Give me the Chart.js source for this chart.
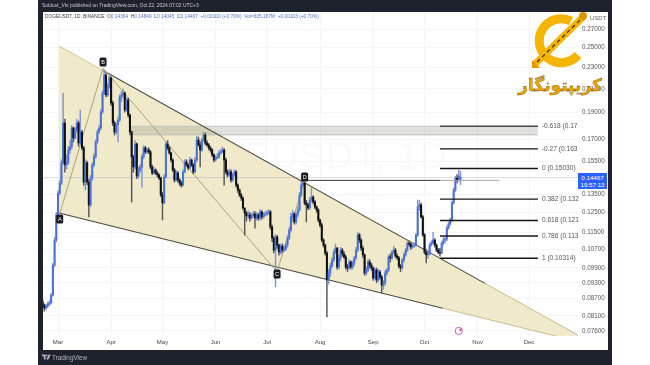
<!DOCTYPE html>
<html>
<head>
<meta charset="utf-8" />
<script src="https://cdn.jsdelivr.net/npm/chart.js@4.4.1/dist/chart.umd.min.js"></script>
<style>
  html, body { margin:0; width:650px; height:365px; overflow:hidden; background:#fff; font-family:"Liberation Sans",sans-serif; }
  #frame { position:absolute; left:38px; top:0; width:574px; height:365px; background:#1e222d; }
  #panel { position:absolute; left:43px; top:12px; width:565px; height:338px; background:#fff; }
  #chart { position:absolute; left:0; top:0; filter:blur(.35px); }
  .t { position:absolute; white-space:nowrap; filter:blur(.2px); }
  #published { left:42px; top:3px; font-size:4.95px; color:#c8cad2; }
  #legend { left:45px; top:14px; font-size:4.8px; color:#3a3d48; }
  #legend span { color:#4f74cc; }
  #wm1 { left:155px; top:135px; font-size:38px; letter-spacing:1px; color:#fafafb; }
  #wm2 { left:265px; top:188px; font-size:13px; color:#f9f9fa; }
  #usdt { left:590px; top:15px; font-size:6px; color:#666; }
  #last { position:absolute; left:578px; top:173px; width:29px; height:16px; background:#2962ff; color:#fff; font-size:6.2px; line-height:7.4px; text-align:center; padding-top:1px; box-sizing:border-box; }
  #tv { left:52px; top:354px; font-size:6.4px; color:#b2b5be; }
  svg { position:absolute; }
</style>
</head>
<body>
<div id="frame"></div>
<div id="panel"></div>
<div class="t" id="wm1">DOGEUSDT, 1D</div>
<div class="t" id="wm2">Dogecoin / TetherUS</div>
<canvas id="chart" width="650" height="365"></canvas>
<div class="t" id="published">Soldout_Vin published on TradingView.com, Oct 22, 2024 07:02 UTC+3</div>
<div class="t" id="legend">DOGEUSDT, 1D, BINANCE &nbsp;O<span>0.14364</span> &nbsp;H<span>0.14849</span> &nbsp;L<span>0.14045</span> &nbsp;C<span>0.14467</span> &nbsp;<span>+0.00100 (+0.70%)</span> &nbsp;<span>Vol=605.167M</span> &nbsp;<span>+0.00103 (+0.70%)</span></div>
<div class="t" id="usdt">USDT</div>
<div id="last">0.14467<br>19:57:13</div>
<div class="t" id="tv">TradingView</div>
<svg style="left:42px;top:354px" width="9" height="7" viewBox="0 0 9 7"><path d="M0 0.5H3.6V5.6H1.8V2.3H0Z M4.4 5.6L6.6 0.5H8.7L6.4 5.6Z" fill="#b2b5be"/><circle cx="4.6" cy="1.4" r="0.9" fill="#b2b5be"/></svg>
<svg style="left:515px;top:5px" width="95" height="98" viewBox="515 5 95 98">
  <path d="M578 55 A22 22 0 1 1 571 21" fill="none" stroke="#f5b400" stroke-width="9"/>
  <path d="M534 65 L583 17" fill="none" stroke="#f5b400" stroke-width="7"/>
  <path d="M537 62 L580 20" fill="none" stroke="#3a2c05" stroke-width="1.2" stroke-dasharray="4 3"/>
  <path d="M532 68 L532 60 L540 68 Z" fill="#e29a00"/>
  <circle cx="583" cy="16" r="4" fill="#d99800"/>
  <text x="560" y="91" text-anchor="middle" direction="rtl" font-family="DejaVu Sans" font-weight="bold" font-size="17" fill="#eda400" stroke="#5a4000" stroke-width="0.3">کریپتونگار</text>
</svg>
<script>
// daily candles, first one is 9 days before Mar 1
const firstDay = -9;
const opens = [
  .0860,.0847,.0837,.0844,.0851,.0856,.0883,.1002,.1113,
  .1237,.1356,.1414,.1539,.1820,.1526,.1539,.1625,.1646,.1782,
  .1709,.1767,.1820,.1673,.1752,.1639,.1420,.1539,.1420,.1290,
  .1444,.1526,.1578,.1680,.1752,.1782,.1906,.2064,.2226,.2047,
  .2117,.2199,.1979,.1820,.1752,.1805,.1843,.2030,.2047,.2064,
  .1922,.2004,.1882,.1752,.1578,.1513,.1666,.1457,.1494,.1513,
  .1578,.1639,.1612,.1625,.1612,.1513,.1475,.1494,.1475,.1463,
  .1444,.1345,.1301,.1450,.1666,.1639,.1605,.1558,.1494,.1432,
  .1475,.1432,.1414,.1402,.1482,.1545,.1526,.1507,.1558,.1526,
  .1482,.1558,.1694,.1660,.1625,.1694,.1730,.1673,.1660,.1639,
  .1625,.1591,.1558,.1571,.1578,.1605,.1612,.1625,.1558,.1482,
  .1463,.1482,.1432,.1463,.1482,.1402,.1373,.1345,.1328,.1274,
  .1247,.1232,.1237,.1221,.1232,.1242,.1221,.1237,.1221,.1253,
  .1227,.1237,.1242,.1247,.1253,.1176,.1123,.1067,.1128,.1090,
  .1058,.1085,.1067,.1072,.1090,.1123,.1161,.1227,.1242,.1201,
  .1237,.1263,.1345,.1402,.1414,.1301,.1290,.1274,.1317,.1334,
  .1306,.1279,.1263,.1211,.1186,.1113,.1090,.1054,.0941,.0969,
  .0998,.1024,.1058,.1076,.0994,.1033,.1067,.1050,.1037,.0994,
  .0990,.1015,.0994,.1011,.1033,.1067,.1137,.1113,.1076,.1046,
  .0969,.0981,.1015,.1002,.0990,.0949,.0981,.0941,.0973,.0953,
  .0921,.0930,.0969,.0981,.1037,.1033,.1058,.1067,.1041,.1033,
  .0998,.0990,.1024,.1046,.1067,.1099,.1094,.1081,.1085,.1090,
  .1137,.1279,.1290,.1227,.1137,.1058,.1046,.1052,.1090,.1099,
  .1113,.1090,.1067,.1058,.1054,.1099,.1113,.1118,.1171,.1191,
  .1211,.1301,.1373,.1444,.1432,.14364
];
const closes = [
  .0847,.0837,.0844,.0851,.0856,.0883,.1002,.1113,.1237,
  .1356,.1414,.1539,.1820,.1526,.1539,.1625,.1646,.1782,.1709,
  .1767,.1820,.1673,.1752,.1639,.1420,.1539,.1420,.1290,.1444,
  .1526,.1578,.1680,.1752,.1782,.1906,.2064,.2226,.2047,.2117,
  .2199,.1979,.1820,.1752,.1805,.1843,.2030,.2047,.2064,.1922,
  .2004,.1882,.1752,.1578,.1513,.1666,.1457,.1494,.1513,.1578,
  .1639,.1612,.1625,.1612,.1513,.1475,.1494,.1475,.1463,.1444,
  .1345,.1301,.1450,.1666,.1639,.1605,.1558,.1494,.1432,.1475,
  .1432,.1414,.1402,.1482,.1545,.1526,.1507,.1558,.1526,.1482,
  .1558,.1694,.1660,.1625,.1694,.1730,.1673,.1660,.1639,.1625,
  .1591,.1558,.1571,.1578,.1605,.1612,.1625,.1558,.1482,.1463,
  .1482,.1432,.1463,.1482,.1402,.1373,.1345,.1328,.1274,.1247,
  .1232,.1237,.1221,.1232,.1242,.1221,.1237,.1221,.1253,.1227,
  .1237,.1242,.1247,.1253,.1176,.1123,.1067,.1128,.1090,.1058,
  .1085,.1067,.1072,.1090,.1123,.1161,.1227,.1242,.1201,.1237,
  .1263,.1345,.1402,.1414,.1301,.1290,.1274,.1317,.1334,.1306,
  .1279,.1263,.1211,.1186,.1113,.1090,.1054,.0941,.0969,.0998,
  .1024,.1058,.1076,.0994,.1033,.1067,.1050,.1037,.0994,.0990,
  .1015,.0994,.1011,.1033,.1067,.1137,.1113,.1076,.1046,.0969,
  .0981,.1015,.1002,.0990,.0949,.0981,.0941,.0973,.0953,.0921,
  .0930,.0969,.0981,.1037,.1033,.1058,.1067,.1041,.1033,.0998,
  .0990,.1024,.1046,.1067,.1099,.1094,.1081,.1085,.1090,.1137,
  .1279,.1290,.1227,.1137,.1058,.1046,.1052,.1090,.1099,.1113,
  .1090,.1067,.1058,.1054,.1099,.1113,.1118,.1171,.1191,.1211,
  .1301,.1373,.1444,.1432,.1457,.14467
];
const highs = [
  .0868,.0852,.0850,.0858,.0863,.0890,.1010,.1125,.1250,
  .1370,.1430,.1560,.2064,.1850,.1590,.1650,.1690,.1800,.1790,
  .1785,.1850,.1835,.1922,.1765,.1650,.1560,.1550,.1435,.1460,
  .1540,.1600,.1695,.1770,.1800,.1925,.2085,.2273,.2240,.2150,
  .2240,.2210,.1995,.1835,.1820,.1865,.2050,.2080,.2100,.2075,
  .2020,.2020,.1890,.1760,.1590,.1690,.1675,.1510,.1530,.1595,
  .1655,.1650,.1640,.1640,.1620,.1525,.1510,.1500,.1485,.1470,
  .1450,.1360,.1465,.1680,.1690,.1650,.1610,.1565,.1505,.1490,
  .1485,.1440,.1425,.1495,.1560,.1560,.1535,.1575,.1565,.1535,
  .1575,.1720,.1715,.1680,.1705,.1750,.1745,.1690,.1670,.1650,
  .1635,.1600,.1590,.1600,.1620,.1630,.1645,.1635,.1570,.1495,
  .1500,.1495,.1475,.1495,.1490,.1410,.1380,.1355,.1335,.1265,
  .1255,.1260,.1250,.1245,.1255,.1255,.1250,.1245,.1265,.1260,
  .1250,.1255,.1260,.1265,.1260,.1185,.1130,.1140,.1135,.1095,
  .1095,.1095,.1085,.1100,.1135,.1175,.1245,.1260,.1250,.1250,
  .1280,.1360,.1420,.1445,.1420,.1315,.1300,.1330,.1385,.1340,
  .1315,.1285,.1270,.1215,.1195,.1120,.1095,.1062,.0985,.1010,
  .1035,.1070,.1095,.1080,.1045,.1080,.1075,.1060,.1045,.1005,
  .1025,.1020,.1020,.1040,.1080,.1150,.1145,.1120,.1085,.1050,
  .0995,.1025,.1025,.1010,.0995,.0990,.0990,.0985,.0980,.0960,
  .0940,.0980,.0990,.1045,.1050,.1065,.1085,.1075,.1050,.1040,
  .1005,.1030,.1055,.1075,.1105,.1110,.1100,.1095,.1100,.1145,
  .1317,.1315,.1300,.1235,.1145,.1070,.1065,.1100,.1110,.1150,
  .1120,.1095,.1075,.1075,.1105,.1125,.1125,.1180,.1200,.1220,
  .1310,.1385,.1455,.1465,.1494,.14849
];
const lows = [
  .0835,.0826,.0830,.0838,.0845,.0850,.0879,.0996,.1105,
  .1230,.1345,.1405,.1530,.1480,.1500,.1530,.1600,.1630,.1680,
  .1700,.1750,.1650,.1660,.1625,.1400,.1373,.1405,.1227,.1280,
  .1430,.1515,.1570,.1670,.1740,.1770,.1895,.2050,.2030,.2035,
  .2105,.1960,.1800,.1730,.1740,.1680,.1830,.1990,.2020,.1905,
  .1910,.1865,.1730,.1306,.1480,.1500,.1440,.1445,.1480,.1390,
  .1565,.1600,.1600,.1600,.1500,.1465,.1470,.1465,.1450,.1435,
  .1335,.1211,.1295,.1445,.1625,.1595,.1545,.1485,.1420,.1425,
  .1420,.1400,.1390,.1395,.1475,.1515,.1495,.1500,.1515,.1470,
  .1475,.1545,.1650,.1513,.1615,.1685,.1660,.1650,.1625,.1610,
  .1580,.1545,.1550,.1565,.1570,.1595,.1605,.1402,.1470,.1450,
  .1455,.1420,.1425,.1455,.1390,.1360,.1335,.1315,.1265,.1137,
  .1205,.1220,.1205,.1215,.1225,.1170,.1210,.1210,.1210,.1215,
  .1220,.1230,.1235,.1240,.1165,.1105,.1055,.0915,.1075,.1045,
  .1050,.1055,.1060,.1065,.1080,.1115,.1150,.1215,.1190,.1190,
  .1225,.1255,.1335,.1395,.1290,.1201,.1265,.1265,.1305,.1295,
  .1270,.1250,.1200,.1175,.1105,.1080,.1045,.0806,.0925,.0955,
  .0990,.1015,.1050,.0985,.0985,.1020,.1040,.1030,.0985,.0975,
  .0985,.0985,.0985,.1000,.1025,.1060,.1100,.1065,.1035,.0960,
  .0960,.0975,.0990,.0980,.0940,.0945,.0930,.0935,.0945,.0891,
  .0905,.0920,.0960,.0975,.1015,.1025,.1050,.1035,.1025,.0990,
  .0975,.0985,.1015,.1040,.1060,.1085,.1070,.1075,.1080,.1085,
  .1130,.1260,.1220,.1130,.1050,.1011,.1030,.1045,.1085,.1095,
  .1080,.1060,.1050,.1040,.1050,.1090,.1100,.1110,.1165,.1185,
  .1205,.1295,.1365,.1415,.1425,.14045
];

const monthDays = [0,31,61,92,122,153,184,214,245,275];
const monthNames = ['Mar','Apr','May','Jun','Jul','Aug','Sep','Oct','Nov','Dec'];
const priceTicks = [.27,.25,.23,.21,.19,.17,.155,.135,.125,.115,.107,.099,.093,.087,.081,.076];

// wedge edges, [day, price]
const wedgeDays = [0.6,303.6];
const wedgeUpper = [.2514,.0747];
const wedgeLower = [.1247,.07265];
const upperFaint = [[0.6,.2514],[26.3,.2268]];
const upperDark = [[26.3,.2268],[249.3,.0928]];
const upperPale = [[249.3,.0928],[303.6,.0747]];
const lowerDark = [[0.6,.1247],[224.7,.0836]];
const lowerPale = [[224.7,.0836],[303.6,.07265]];

// ABCD pattern
const patternNames = ['A','B','C','D'];
const patternDays = [1,26.3,127.9,144];
const patternPrices = [.1242,.2292,.0973,.1432];

// fib levels
const fibStart = 223, fibEnd = 280.2;
const fibPrices = [.1795,.1632,.1503,.1322,.1208,.1132,.10314];
const fibNames = ['-0.618 (0.17','-0.27 (0.163','0 (0.15030)','0.382 (0.132','0.618 (0.121','0.786 (0.113','1 (0.10314)'];

const zoneDays = [42,280.2];
const zoneTop = .1795, zoneBottom = .1730;
const resistance = .1430;
const lastPrice = .14467;
const plotLeftDay = -8.76, plotRightDay = 303.6;
const eventDay = 234, eventPrice = .076;

const pts = arr => arr.map(p => ({x:p[0], y:p[1]}));
const flat = (a, b, v) => [{x:a,y:v},{x:b,y:v}];
const UP = '#4a72d6', DOWN = '#0e0f14';
const isUp = i => closes[i] >= opens[i];

function seg(data, color, width, order, extra) {
  return Object.assign({ type:'line', data:data, borderColor:color, borderWidth:width, pointRadius:0, fill:false, order:order }, extra||{});
}

const datasets = [
  // wedge body
  seg(wedgeDays.map((d,i)=>({x:d,y:wedgeUpper[i]})), 'rgba(0,0,0,0)', 0, 100, { fill:'+1', backgroundColor:'#f0eacb' }),
  seg(wedgeDays.map((d,i)=>({x:d,y:wedgeLower[i]})), 'rgba(0,0,0,0)', 0, 101),
  // grey zone
  seg(flat(zoneDays[0],zoneDays[1],zoneTop), '#c4c4c0', 1, 90, { fill:'+1', backgroundColor:'rgba(120,120,115,.24)' }),
  seg(flat(zoneDays[0],zoneDays[1],zoneBottom), '#cfcfca', 1, 91),
  // faint last price line
  seg(flat(plotLeftDay,plotRightDay,lastPrice), 'rgba(175,175,175,.45)', 1, 88),
  seg(pts(upperFaint), '#cfc69b', 1, 80),
  seg(pts(upperDark), '#4a4a3e', 1.1, 80),
  seg(pts(upperPale), '#c8be90', 1, 80),
  seg(pts(lowerDark), '#4a4a3e', 1.1, 80),
  seg(pts(lowerPale), '#c8be90', 1, 80),
  seg(patternDays.map((d,i)=>({x:d,y:patternPrices[i]})), '#a59c6e', 0.9, 70),
  // wicks and bodies
  { type:'bar', order:20, grouped:false, barThickness:0.8,
    data:closes.map((c,i)=>({x:firstDay+i, y:[lows[i],highs[i]]})),
    backgroundColor:closes.map((c,i)=>isUp(i)?'#7f95d4':'#55565c') },
  { type:'bar', order:10, grouped:false, barThickness:1.4,
    data:closes.map((c,i)=>({x:firstDay+i, y:[opens[i],c]})),
    backgroundColor:closes.map((c,i)=>isUp(i)?UP:DOWN) },
  // horizontal line from D
  seg(flat(patternDays[3]-2.5,223,resistance), '#3c3c3c', 1, 6),
  seg(flat(223,257.7,resistance), '#a9a9a9', 1, 6),
  // event marker
  { type:'scatter', order:4, data:[{x:eventDay,y:eventPrice}], pointRadius:3.6, pointBorderWidth:1, pointBorderColor:'#bb66c8', pointBackgroundColor:'#fff' },
  { type:'scatter', order:3, data:[{x:eventDay+1,y:eventPrice*1.005}], pointRadius:1.2, pointBorderWidth:0, pointBackgroundColor:'#d8406e' }
];
fibPrices.forEach((p,i) => {
  datasets.push(seg(flat(fibStart,fibEnd,p), i==0 ? '#4a4a4a' : '#161616', 1.4, 5));
});

const annotate = {
  id:'annotate',
  afterDatasetsDraw(chart) {
    const x = chart.scales.x, y = chart.scales.y, c = chart.ctx;
    c.save();
    c.textBaseline = 'middle';
    // fib labels
    c.font = '6.6px "Liberation Sans"';
    c.fillStyle = '#555';
    c.textAlign = 'left';
    fibPrices.forEach((p,i) => c.fillText(fibNames[i], x.getPixelForValue(fibEnd)+4, y.getPixelForValue(p)));
    // pattern letters
    const shift = [5,-6,2,-3];
    c.textAlign = 'center';
    patternNames.forEach((n,i) => {
      const px = x.getPixelForValue(patternDays[i]), py = y.getPixelForValue(patternPrices[i]) + shift[i];
      c.fillStyle = '#1a1c24';
      c.beginPath();
      c.roundRect(px-3.5, py-4.5, 7, 9, 1.5);
      c.fill();
      c.fillStyle = '#fff';
      c.font = '5.5px "Liberation Sans"';
      c.fillText(n, px, py+0.3);
    });
    c.restore();
  }
};

new Chart(document.getElementById('chart'), {
  data:{ datasets:datasets },
  plugins:[annotate],
  options:{
    responsive:false, animation:false, devicePixelRatio:1,
    layout:{ padding:{ left:43, right:42, top:12, bottom:15 } },
    plugins:{ legend:{display:false}, tooltip:{enabled:false} },
    scales:{
      x:{
        type:'linear', offset:false, min:plotLeftDay, max:plotRightDay,
        afterBuildTicks:s => { s.ticks = monthDays.map(v=>({value:v})); },
        afterFit:s => { s.height = 14; },
        grid:{ color:'#f3f4f6', drawTicks:false, offset:false },
        border:{ display:false },
        ticks:{ autoSkip:false, maxRotation:0, padding:3, color:'#444', font:{family:'Liberation Sans',size:6,weight:'500'},
          callback:v => monthNames[monthDays.indexOf(v)] }
      },
      y:{
        type:'logarithmic', position:'right', min:.0744, max:.29,
        afterBuildTicks:s => { s.ticks = priceTicks.map(v=>({value:v})); },
        afterFit:s => { s.width = 30; },
        grid:{ color:'#f4f5f7', drawTicks:false },
        border:{ display:false },
        ticks:{ autoSkip:false, padding:4, color:'#555', font:{family:'Liberation Sans',size:6.3},
          callback:v => v.toFixed(5) }
      }
    }
  }
});
</script>
</body>
</html>
